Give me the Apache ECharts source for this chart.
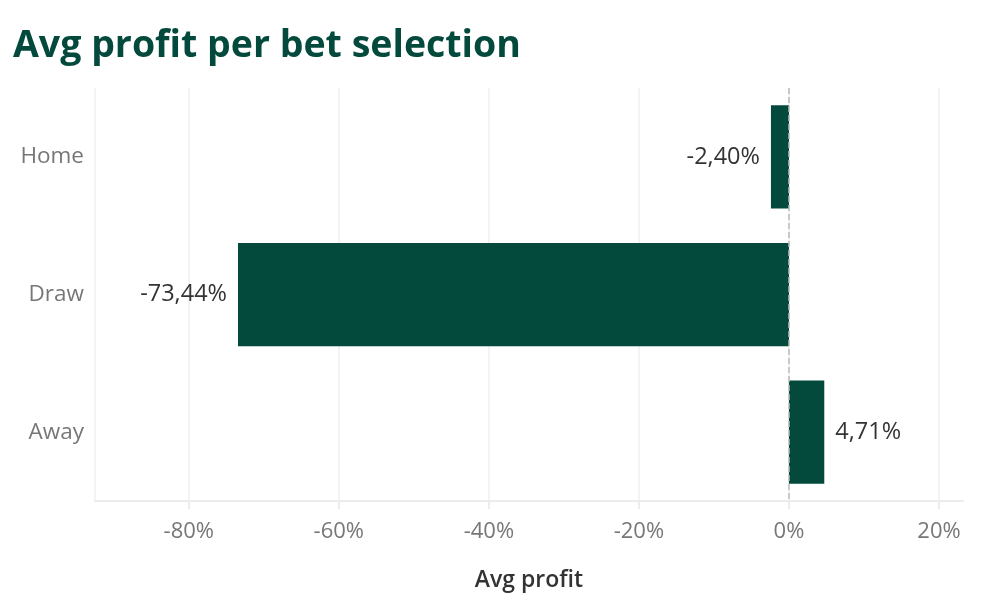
<!DOCTYPE html>
<html><head><meta charset="utf-8">
<script src="https://cdn.jsdelivr.net/npm/echarts@6/dist/echarts.min.js"></script>
<style>html,body{margin:0;padding:0;background:#fff}#c{width:1006px;height:616px}</style>
</head><body><div id="c"></div>
<script>
const categories = ['Home', 'Draw', 'Away'];
const avgProfit = [-2.40, -73.44, 4.71];
const axisMin = -92.5;
const axisMax = 23.2;

const green = '#034a3d';
const font = 'Open Sans';
const fmt = v => v.toFixed(2).replace('.', ',') + '%';

const chart = echarts.init(document.getElementById('c'));
chart.setOption({
  animation: false,
  title: {
    text: 'Avg profit per bet selection',
    left: 8, top: 22,
    textStyle: { fontFamily: font, fontWeight: 'bold', fontSize: 37.5, color: green }
  },
  grid: { left: 95, right: 43, top: 88, bottom: 115, containLabel: false },
  xAxis: {
    type: 'value', min: axisMin, max: axisMax, splitNumber: 6,
    name: 'Avg profit', nameLocation: 'middle', nameGap: 68,
    nameTextStyle: { fontFamily: font, fontSize: 23, fontWeight: 600, color: '#333' },
    axisLine: { show: true, lineStyle: { color: '#ececec', width: 2 } },
    axisTick: { show: true, length: 8, lineStyle: { color: '#ececec', width: 2 } },
    axisLabel: { showMinLabel: false, showMaxLabel: false, margin: 20, fontFamily: font, fontSize: 22, color: '#777', formatter: v => v + '%' },
    splitLine: { show: true, showMaxLine: false, lineStyle: { color: '#efefef', width: 1.5 } }
  },
  yAxis: {
    type: 'category', data: categories, inverse: true,
    axisLine: { show: false }, axisTick: { show: false },
    axisLabel: { margin: 11, fontFamily: font, fontSize: 22.5, color: '#777' }
  },
  series: [{
    type: 'bar', data: avgProfit.map(v => ({ value: v, label: { position: v < 0 ? 'left' : 'right' } })),
    barWidth: '75%',
    itemStyle: { color: green },
    label: { show: true, distance: 11, fontFamily: font, fontSize: 23.5, color: '#333', formatter: p => fmt(p.value) },
    markLine: {
      silent: true, symbol: 'none', label: { show: false },
      lineStyle: { color: '#bbb', type: 'dashed', width: 1.5 },
      data: [{ xAxis: 0 }]
    }
  }]
});
</script></body></html>
